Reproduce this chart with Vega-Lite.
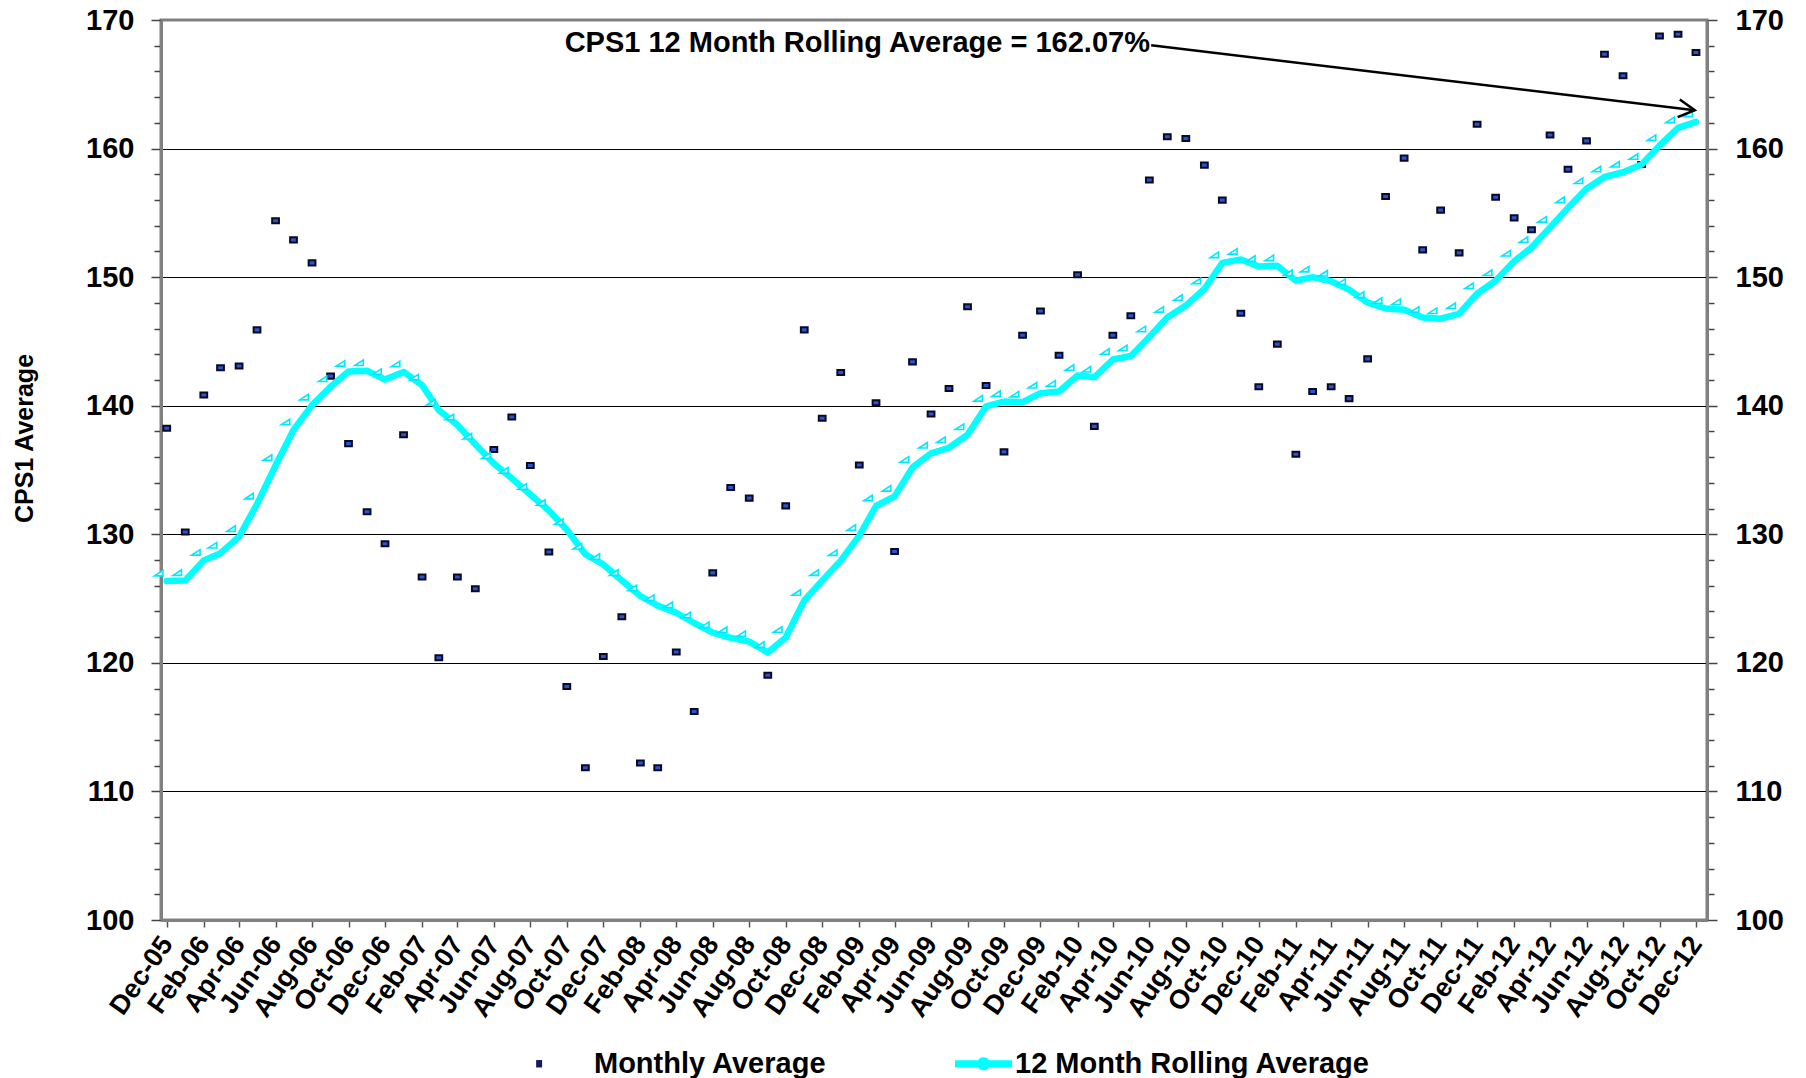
{
  "$schema": "https://vega.github.io/schema/vega-lite/v6.json",
  "autosize": "none",
  "width": 1546,
  "height": 900,
  "padding": {"left": 161, "top": 20, "right": 99, "bottom": 158},
  "background": "white",
  "config": {
    "view": {"stroke": "#808080", "strokeWidth": 3},
    "font": "Liberation Sans"
  },
  "data": {"values": [
    {"d":"2005-12-01","m":138.25,"r":126.36},
    {"d":"2006-01-01","m":130.18,"r":126.40},
    {"d":"2006-02-01","m":140.83,"r":127.97},
    {"d":"2006-03-01","m":142.95,"r":128.53},
    {"d":"2006-04-01","m":143.09,"r":129.82},
    {"d":"2006-05-01","m":145.90,"r":132.35},
    {"d":"2006-06-01","m":154.38,"r":135.35},
    {"d":"2006-07-01","m":152.90,"r":138.11},
    {"d":"2006-08-01","m":151.11,"r":140.05},
    {"d":"2006-09-01","m":142.30,"r":141.47},
    {"d":"2006-10-01","m":137.05,"r":142.67},
    {"d":"2006-11-01","m":131.75,"r":142.72},
    {"d":"2006-12-01","m":129.26,"r":142.03},
    {"d":"2007-01-01","m":137.74,"r":142.63},
    {"d":"2007-02-01","m":126.68,"r":141.60},
    {"d":"2007-03-01","m":120.40,"r":139.65},
    {"d":"2007-04-01","m":126.68,"r":138.50},
    {"d":"2007-05-01","m":125.76,"r":137.00},
    {"d":"2007-06-01","m":136.59,"r":135.50},
    {"d":"2007-07-01","m":139.12,"r":134.35},
    {"d":"2007-08-01","m":135.35,"r":133.10},
    {"d":"2007-09-01","m":128.62,"r":131.85},
    {"d":"2007-10-01","m":118.16,"r":130.35},
    {"d":"2007-11-01","m":111.84,"r":128.45},
    {"d":"2007-12-01","m":120.50,"r":127.65},
    {"d":"2008-01-01","m":123.59,"r":126.40},
    {"d":"2008-02-01","m":112.21,"r":125.20},
    {"d":"2008-03-01","m":111.84,"r":124.45},
    {"d":"2008-04-01","m":120.85,"r":123.90},
    {"d":"2008-05-01","m":116.22,"r":123.10},
    {"d":"2008-06-01","m":127.00,"r":122.35},
    {"d":"2008-07-01","m":133.64,"r":121.95},
    {"d":"2008-08-01","m":132.81,"r":121.65},
    {"d":"2008-09-01","m":119.03,"r":120.80},
    {"d":"2008-10-01","m":132.21,"r":121.97},
    {"d":"2008-11-01","m":145.90,"r":124.85},
    {"d":"2008-12-01","m":139.03,"r":126.40},
    {"d":"2009-01-01","m":142.58,"r":127.95},
    {"d":"2009-02-01","m":135.39,"r":129.90},
    {"d":"2009-03-01","m":140.23,"r":132.20},
    {"d":"2009-04-01","m":128.66,"r":132.95},
    {"d":"2009-05-01","m":143.41,"r":135.20},
    {"d":"2009-06-01","m":139.35,"r":136.30},
    {"d":"2009-07-01","m":141.34,"r":136.73},
    {"d":"2009-08-01","m":147.70,"r":137.74},
    {"d":"2009-09-01","m":141.57,"r":139.95},
    {"d":"2009-10-01","m":136.41,"r":140.32},
    {"d":"2009-11-01","m":145.48,"r":140.28},
    {"d":"2009-12-01","m":147.37,"r":140.97},
    {"d":"2010-01-01","m":143.92,"r":141.11},
    {"d":"2010-02-01","m":150.18,"r":142.35},
    {"d":"2010-03-01","m":138.39,"r":142.21},
    {"d":"2010-04-01","m":145.48,"r":143.59},
    {"d":"2010-05-01","m":147.00,"r":143.87},
    {"d":"2010-06-01","m":157.56,"r":145.35},
    {"d":"2010-07-01","m":160.92,"r":146.87},
    {"d":"2010-08-01","m":160.78,"r":147.79},
    {"d":"2010-09-01","m":158.71,"r":149.08},
    {"d":"2010-10-01","m":155.99,"r":151.11},
    {"d":"2010-11-01","m":147.19,"r":151.38},
    {"d":"2010-12-01","m":141.47,"r":150.83},
    {"d":"2011-01-01","m":144.79,"r":150.88},
    {"d":"2011-02-01","m":136.22,"r":149.72},
    {"d":"2011-03-01","m":141.11,"r":150.00},
    {"d":"2011-04-01","m":141.47,"r":149.68},
    {"d":"2011-05-01","m":140.55,"r":149.03},
    {"d":"2011-06-01","m":143.64,"r":148.02},
    {"d":"2011-07-01","m":156.27,"r":147.56},
    {"d":"2011-08-01","m":159.26,"r":147.47},
    {"d":"2011-09-01","m":152.12,"r":146.87},
    {"d":"2011-10-01","m":155.21,"r":146.77},
    {"d":"2011-11-01","m":151.89,"r":147.15},
    {"d":"2011-12-01","m":161.89,"r":148.71},
    {"d":"2012-01-01","m":156.22,"r":149.72},
    {"d":"2012-02-01","m":154.61,"r":151.24},
    {"d":"2012-03-01","m":153.69,"r":152.30},
    {"d":"2012-04-01","m":161.06,"r":153.87},
    {"d":"2012-05-01","m":158.39,"r":155.39},
    {"d":"2012-06-01","m":160.60,"r":156.87},
    {"d":"2012-07-01","m":167.33,"r":157.79},
    {"d":"2012-08-01","m":165.67,"r":158.16},
    {"d":"2012-09-01","m":158.76,"r":158.76},
    {"d":"2012-10-01","m":168.76,"r":160.23},
    {"d":"2012-11-01","m":168.89,"r":161.61},
    {"d":"2012-12-01","m":167.47,"r":162.07}
  ]},
  "encoding": {
    "x": {
      "field": "d", "type": "temporal",
      "scale": {"type": "utc", "domain": [
        {"year": 2005, "month": 11, "date": 21, "hours": 11, "utc": true},
        {"year": 2012, "month": 12, "date": 19, "hours": 10, "utc": true}
      ]},
      "axis": {
        "title": null,
        "values": [
          {"year":2005,"month":12,"date":1,"utc":true},
          {"year":2006,"month":2,"date":1,"utc":true},{"year":2006,"month":4,"date":1,"utc":true},{"year":2006,"month":6,"date":1,"utc":true},{"year":2006,"month":8,"date":1,"utc":true},{"year":2006,"month":10,"date":1,"utc":true},{"year":2006,"month":12,"date":1,"utc":true},
          {"year":2007,"month":2,"date":1,"utc":true},{"year":2007,"month":4,"date":1,"utc":true},{"year":2007,"month":6,"date":1,"utc":true},{"year":2007,"month":8,"date":1,"utc":true},{"year":2007,"month":10,"date":1,"utc":true},{"year":2007,"month":12,"date":1,"utc":true},
          {"year":2008,"month":2,"date":1,"utc":true},{"year":2008,"month":4,"date":1,"utc":true},{"year":2008,"month":6,"date":1,"utc":true},{"year":2008,"month":8,"date":1,"utc":true},{"year":2008,"month":10,"date":1,"utc":true},{"year":2008,"month":12,"date":1,"utc":true},
          {"year":2009,"month":2,"date":1,"utc":true},{"year":2009,"month":4,"date":1,"utc":true},{"year":2009,"month":6,"date":1,"utc":true},{"year":2009,"month":8,"date":1,"utc":true},{"year":2009,"month":10,"date":1,"utc":true},{"year":2009,"month":12,"date":1,"utc":true},
          {"year":2010,"month":2,"date":1,"utc":true},{"year":2010,"month":4,"date":1,"utc":true},{"year":2010,"month":6,"date":1,"utc":true},{"year":2010,"month":8,"date":1,"utc":true},{"year":2010,"month":10,"date":1,"utc":true},{"year":2010,"month":12,"date":1,"utc":true},
          {"year":2011,"month":2,"date":1,"utc":true},{"year":2011,"month":4,"date":1,"utc":true},{"year":2011,"month":6,"date":1,"utc":true},{"year":2011,"month":8,"date":1,"utc":true},{"year":2011,"month":10,"date":1,"utc":true},{"year":2011,"month":12,"date":1,"utc":true},
          {"year":2012,"month":2,"date":1,"utc":true},{"year":2012,"month":4,"date":1,"utc":true},{"year":2012,"month":6,"date":1,"utc":true},{"year":2012,"month":8,"date":1,"utc":true},{"year":2012,"month":10,"date":1,"utc":true},{"year":2012,"month":12,"date":1,"utc":true}
        ],
        "format": "%b-%y",
        "labelAngle": -55,
        "labelAlign": "right",
        "labelBaseline": "middle",
        "labelOverlap": false,
        "labelFont": "Liberation Sans",
        "labelFontWeight": "bold",
        "labelFontSize": 27,
        "labelColor": "#000000",
        "labelPadding": 12,
        "labelBound": false,
        "labelFlush": false,
        "tickSize": 7,
        "tickColor": "#555555",
        "tickWidth": 1.5,
        "domainColor": "#808080",
        "domainWidth": 3,
        "grid": false
      }
    }
  },
  "layer": [
    {
      "mark": {"type": "point", "shape": "M-1,-0.75L1,-0.75L1,0.75L-1,0.75Z", "size": 46, "filled": true, "fill": "#2a55d0", "stroke": "#0a0a24", "strokeWidth": 2, "opacity": 1},
      "encoding": {
        "y": {
          "field": "m", "type": "quantitative",
          "scale": {"domain": [100, 170], "nice": false, "zero": false},
          "axis": {
            "orient": "left",
            "title": "CPS1 Average",
            "titleFont": "Liberation Sans",
            "titleFontSize": 25,
            "titleFontWeight": "bold",
            "titleColor": "#000000",
            "titleX": -124,
            "titleY": 418,
            "values": [100,102,104,106,108,110,112,114,116,118,120,122,124,126,128,130,132,134,136,138,140,142,144,146,148,150,152,154,156,158,160,162,164,166,168,170],
            "labelExpr": "datum.value % 10 === 0 ? datum.label : ''",
            "labelFont": "Liberation Sans",
            "labelFontWeight": "bold",
            "labelFontSize": 29,
            "labelColor": "#000000",
            "labelPadding": 17,
            "labelOverlap": false,
            "tickSize": {"condition": {"test": "datum.value % 10 === 0", "value": 10}, "value": 7},
            "tickColor": "#444444",
            "tickWidth": 1.5,
            "domainColor": "#808080",
            "domainWidth": 3,
            "grid": true,
            "gridColor": "#000000",
            "gridWidth": 1,
            "gridOpacity": {"condition": {"test": "datum.value % 10 === 0 && datum.value > 100 && datum.value < 170", "value": 1}, "value": 0}
          }
        }
      }
    },
    {
      "mark": {"type": "line", "color": "#00ffff", "strokeWidth": 6.5, "strokeJoin": "round", "strokeCap": "round"},
      "encoding": {
        "y": {
          "field": "r", "type": "quantitative",
          "scale": {"domain": [100, 170], "nice": false, "zero": false},
          "axis": {
            "orient": "right",
            "title": null,
            "values": [100,102,104,106,108,110,112,114,116,118,120,122,124,126,128,130,132,134,136,138,140,142,144,146,148,150,152,154,156,158,160,162,164,166,168,170],
            "labelExpr": "datum.value % 10 === 0 ? datum.label : ''",
            "labelFont": "Liberation Sans",
            "labelFontWeight": "bold",
            "labelFontSize": 29,
            "labelColor": "#000000",
            "labelPadding": 18,
            "labelOverlap": false,
            "tickSize": {"condition": {"test": "datum.value % 10 === 0", "value": 10}, "value": 7},
            "tickColor": "#444444",
            "tickWidth": 1.5,
            "domainColor": "#808080",
            "domainWidth": 3,
            "grid": false
          }
        }
      }
    },
    {
      "mark": {"type": "point", "shape": "M-1,0.65L1,-0.65L1,0.65Z", "size": 72, "filled": false, "fill": "#ffffff", "stroke": "#00e8ff", "strokeWidth": 1.6, "opacity": 1, "xOffset": -8, "yOffset": -8},
      "encoding": {
        "y": {"field": "r", "type": "quantitative", "scale": {"domain": [100, 170], "nice": false, "zero": false}, "axis": null}
      }
    },
    {
      "data": {"values": [
        {"s": "Monthly Average"},
        {"s": "12 Month Rolling Average"}
      ]},
      "mark": {"type": "point", "filled": true, "opacity": 1},
      "encoding": {
        "y": {"field": "m", "type": "quantitative", "scale": {"domain": [100, 170], "nice": false, "zero": false}, "axis": null},
        "color": {
          "field": "s", "type": "nominal",
          "scale": {"domain": ["Monthly Average", "12 Month Rolling Average"], "range": ["#141a5a", "#00ffff"]},
          "legend": {
            "title": null,
            "orient": "none",
            "legendX": 373,
            "legendY": 1015,
            "direction": "horizontal",
            "symbolSize": 3249,
            "symbolStrokeWidth": 0,
            "labelFont": "Liberation Sans",
            "labelFontSize": 29,
            "labelFontWeight": "bold",
            "labelColor": "#000000",
            "labelLimit": 1000,
            "labelOffset": 3,
            "columnPadding": 128
          }
        },
        "shape": {
          "field": "s", "type": "nominal",
          "scale": {"domain": ["Monthly Average", "12 Month Rolling Average"], "range": [
            "M-0.925,-0.13L-0.715,-0.13L-0.715,0.13L-0.925,0.13Z",
            "M-1,-0.12L1,-0.12L1,0.12L-1,0.12Z M-0.23,0 A0.23,0.23 0 1,1 0.23,0 A0.23,0.23 0 1,1 -0.23,0 Z"
          ]},
          "legend": {"title": null}
        }
      }
    },
    {
      "data": {"values": [
        {"d": "2010-06-04", "v": 168.03, "d2": "2012-11-29", "v2": 162.98}
      ]},
      "mark": {"type": "rule", "color": "#000000", "strokeWidth": 2.5},
      "encoding": {
        "y": {"field": "v", "type": "quantitative", "scale": {"domain": [100, 170], "nice": false, "zero": false}, "axis": null},
        "x2": {"field": "d2"},
        "y2": {"field": "v2"}
      }
    },
    {
      "data": {"values": [
        {"d": "2012-11-29", "v": 162.98}
      ]},
      "mark": {"type": "point", "shape": "M-1,-0.55L0,0L-1,0.55", "size": 1050, "filled": false, "stroke": "#000000", "strokeWidth": 2.5, "angle": 6.8, "opacity": 1},
      "encoding": {
        "y": {"field": "v", "type": "quantitative", "scale": {"domain": [100, 170], "nice": false, "zero": false}, "axis": null}
      }
    },
    {
      "data": {"values": [
        {"d": "2010-06-02", "v": 167.53, "label": "CPS1 12 Month Rolling Average = 162.07%"}
      ]},
      "mark": {"type": "text", "align": "right", "baseline": "alphabetic", "font": "Liberation Sans", "fontSize": 29, "fontWeight": "bold", "color": "#000000"},
      "encoding": {
        "y": {"field": "v", "type": "quantitative", "scale": {"domain": [100, 170], "nice": false, "zero": false}, "axis": null},
        "text": {"field": "label"}
      }
    }
  ],
  "resolve": {"scale": {"y": "shared"}, "axis": {"y": "independent"}}
}
